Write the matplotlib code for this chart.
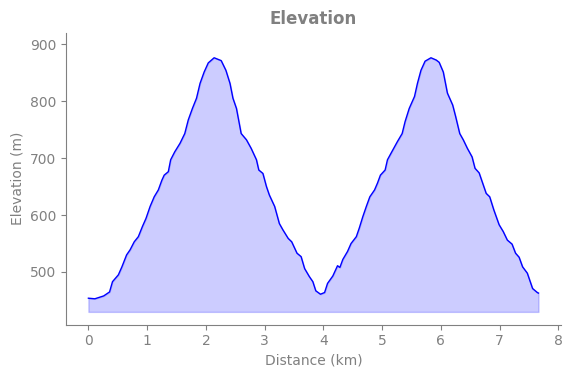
import matplotlib
matplotlib.use("Agg")
import matplotlib.pyplot as plt

# elevation profile (km, m)
distance_km = [0.00, 0.11, 0.26, 0.36, 0.41, 0.51, 0.57, 0.65, 0.71, 0.78,
               0.85, 0.92, 0.98, 1.05, 1.12, 1.19, 1.25, 1.29, 1.36, 1.40,
               1.47, 1.56, 1.64, 1.70, 1.77, 1.84, 1.90, 1.97, 2.04, 2.14,
               2.26, 2.34, 2.41, 2.46, 2.52, 2.60, 2.69, 2.77, 2.86, 2.90,
               2.97, 3.03, 3.08, 3.17, 3.25, 3.31, 3.40, 3.46, 3.55, 3.62,
               3.68, 3.76, 3.82, 3.87, 3.95, 4.02, 4.07, 4.16, 4.24, 4.28,
               4.33, 4.41, 4.47, 4.56, 4.61, 4.67, 4.73, 4.79, 4.87, 4.92,
               4.97, 5.05, 5.09, 5.18, 5.26, 5.34, 5.39, 5.46, 5.55, 5.60,
               5.66, 5.73, 5.83, 5.92, 5.97, 6.04, 6.11, 6.20, 6.25, 6.32,
               6.38, 6.45, 6.53, 6.58, 6.65, 6.71, 6.77, 6.83, 6.90, 6.99,
               7.06, 7.13, 7.21, 7.27, 7.33, 7.39, 7.47, 7.56, 7.64, 7.66]
elevation_m = [454, 453, 458, 465, 483, 495, 509, 530, 539, 553,
               562, 580, 594, 615, 632, 644, 661, 670, 676, 697,
               711, 726, 743, 767, 787, 805, 831, 851, 867, 876,
               871, 854, 831, 805, 787, 743, 732, 717, 697, 679,
               673, 650, 635, 615, 585, 574, 559, 553, 533, 527,
               506, 492, 483, 467, 461, 464, 480, 493, 511, 508,
               522, 536, 550, 562, 577, 597, 615, 632, 644, 656,
               670, 679, 697, 714, 729, 743, 764, 787, 808, 831,
               854, 870, 876, 872, 868, 851, 814, 793, 773, 743,
               732, 717, 702, 682, 674, 656, 638, 632, 609, 583,
               571, 556, 549, 533, 526, 509, 498, 471, 464, 463]
fill_base = 430

grey = "#808080"

fig, ax = plt.subplots(figsize=(5.73, 3.78), dpi=100)
ax.plot(distance_km, elevation_m, color="blue", linewidth=1)
ax.fill_between(distance_km, elevation_m, fill_base, color="blue", alpha=0.2)

ax.set_ylim(407.5, 920)
ax.set_title("Elevation", fontsize=12, fontweight="bold", color=grey)
ax.set_xlabel("Distance (km)", color=grey)
ax.set_ylabel("Elevation (m)", color=grey)

for side in ["top", "right"]:
    ax.spines[side].set_visible(False)
for side in ["left", "bottom"]:
    ax.spines[side].set_color(grey)
ax.tick_params(colors=grey)

plt.subplots_adjust(left=0.115, right=0.979, top=0.9135, bottom=0.141)
plt.savefig("out.png", dpi=100)
